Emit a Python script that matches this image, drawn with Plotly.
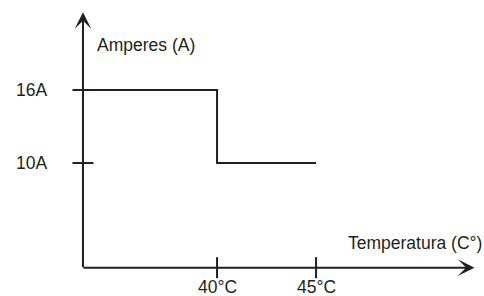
import plotly.graph_objects as go

# Data
temps = [40, 45]                 # x tick values (°C)
temp_labels = ["40°C", "45°C"]
amps = [16, 10]                  # y tick values (A)
amp_labels = ["16A", "10A"]
step_x = [40, 40, 45]            # step curve breakpoints (after axis start)
step_y = [16, 10, 10]

# Axis frame (data coordinates)
X0, Y0 = 33.23, 1.40             # origin of the drawn axes
XMAX, YMAX = 53.0, 22.4          # arrow tips
XR = [29.04, 53.48]
YR = [-0.93, 23.40]

INK = "#231f20"
FONT = dict(family="Liberation Sans, Arial, Helvetica, sans-serif", size=17.5, color=INK)

fig = go.Figure()

# step curve
fig.add_trace(go.Scatter(x=[X0] + step_x, y=[step_y[0]] + step_y, mode="lines",
                         line=dict(color=INK, width=2), hoverinfo="skip"))
# x ticks
fig.add_trace(go.Scatter(x=temps, y=[Y0] * len(temps), mode="markers",
                         marker=dict(symbol="line-ns-open", size=15, color=INK,
                                     line=dict(color=INK, width=2)), hoverinfo="skip"))
# y ticks
fig.add_trace(go.Scatter(x=[X0] * len(amps), y=amps, mode="markers",
                         marker=dict(symbol="line-ew-open", size=15, color=INK,
                                     line=dict(color=INK, width=2)), hoverinfo="skip"))

ann = []
# axes with arrows
ann.append(dict(x=XMAX, y=Y0, ax=X0 - 0.05, ay=Y0, xref="x", yref="y", axref="x", ayref="y",
                text="", showarrow=True, arrowhead=3, arrowsize=1.4, arrowwidth=2, arrowcolor=INK))
ann.append(dict(x=X0, y=YMAX, ax=X0, ay=Y0 - 0.08, xref="x", yref="y", axref="x", ayref="y",
                text="", showarrow=True, arrowhead=3, arrowsize=1.4, arrowwidth=2, arrowcolor=INK))
# tick labels
for t, lab in zip(temps, temp_labels):
    ann.append(dict(x=t, y=Y0, xref="x", yref="y", text=lab, showarrow=False, borderpad=0,
                    xanchor="center", yanchor="top", yshift=-8, font=FONT))
for a, lab in zip(amps, amp_labels):
    ann.append(dict(x=X0, y=a, xref="x", yref="y", text=lab, showarrow=False,
                    xanchor="right", yanchor="middle", xshift=-34, font=FONT))
# axis titles
ann.append(dict(x=X0, y=YMAX, xref="x", yref="y", text="Amperes (A)", showarrow=False,
                xanchor="left", yanchor="middle", xshift=12, yshift=-33, font=FONT))
ann.append(dict(x=XMAX, y=Y0, xref="x", yref="y", text="Temperatura (C°)", showarrow=False,
                xanchor="right", yanchor="middle", xshift=10, yshift=25, font=FONT))

fig.update_layout(
    width=484, height=296, margin=dict(l=0, r=0, t=0, b=0),
    paper_bgcolor="white", plot_bgcolor="white", showlegend=False,
    xaxis=dict(range=XR, visible=False, fixedrange=True),
    yaxis=dict(range=YR, visible=False, fixedrange=True),
    annotations=ann,
)

fig.write_html("out.html", config={"displayModeBar": False},
               post_script="document.body.style.margin='0';document.body.style.overflow='hidden';")
